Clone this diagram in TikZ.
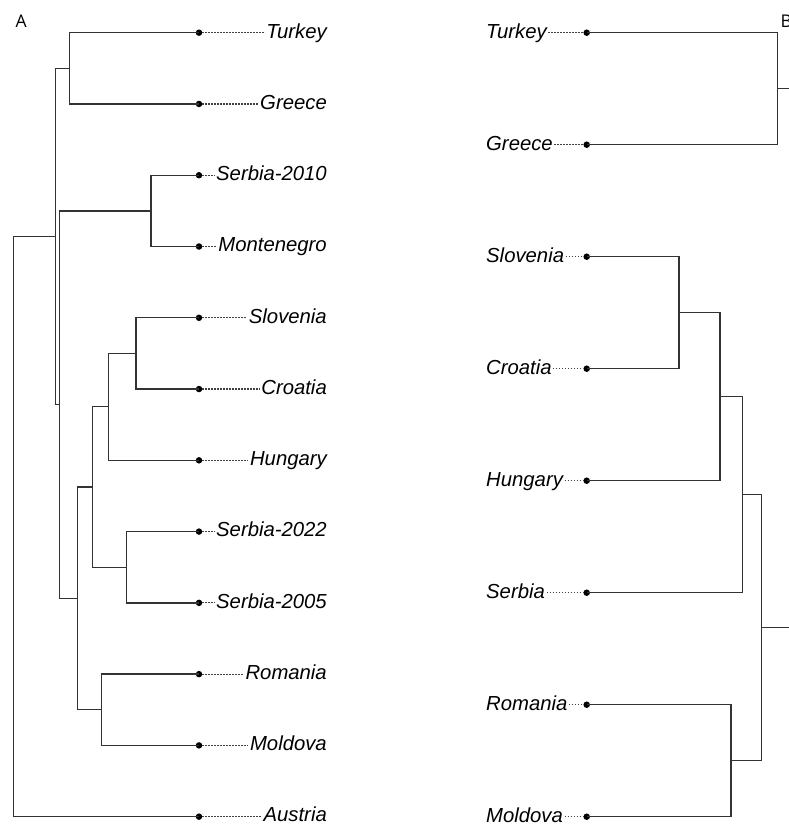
\documentclass[tikz,border=0pt]{standalone}
\usepackage{fontspec}
\setmainfont{Liberation Sans}
\newfontfamily\panelfont{Open Sans}
\begin{document}
\begin{tikzpicture}[x=1pt,y=-1pt,
  treeline/.style={draw=black!80,line width=1.35pt},
  dotline/.style={draw=black!75,line width=1.2pt,dash pattern=on 1.1pt off 1.9pt},
  tipdot/.style={circle,fill=black,inner sep=0pt,minimum size=6.5pt},
  taxonL/.style={anchor=base east,inner sep=1.5pt,font=\fontsize{20.3}{22}\selectfont\itshape},
  taxonR/.style={anchor=base west,inner sep=1.5pt,font=\fontsize{20.3}{22}\selectfont\itshape},
  panel/.style={anchor=base west,inner sep=0pt,font=\fontsize{17.5}{19}\selectfont\panelfont}]
\useasboundingbox (0,0) rectangle (788,825);
\node[panel] (pA) at (15.5,27.5) {A};
\node[panel] (pB) at (780.5,27.5) {B};
% ---------- left tree (A) ----------
\foreach \n/\t/\i in {lT/Turkey/0,lG/Greece/1,lS10/Serbia-2010/2,lM/Montenegro/3,lSl/Slovenia/4,lCr/Croatia/5,lHu/Hungary/6,lS22/Serbia-2022/7,lS05/Serbia-2005/8,lRo/Romania/9,lMo/Moldova/10,lAu/Austria/11}{
  \node[tipdot] (\n) at (199,{32.7+71.27*\i}) {};
  \node[taxonL] (\n l) at (328.5,{38+71.27*\i}) {\t};
  \draw[dotline] (\n.east) -- (\n -| \n l.west);
}
\coordinate (lTG) at (69.7,68.3);
\coordinate (lSM) at (151,211);
\coordinate (lSC) at (136,353.3);
\coordinate (lSCH) at (108.3,406.8);
\coordinate (lSS) at (126.7,567.2);
\coordinate (lX) at (92.3,487);
\coordinate (lRM) at (101.7,709.7);
\coordinate (lY) at (77.7,598.5);
\coordinate (lZ) at (59.7,404.8);
\coordinate (lW) at (55.3,236.5);
\coordinate (lRoot) at (13.3,526.6);
\draw[treeline] (lTG) |- (lT.center) (lTG) |- (lG.center);
\draw[treeline] (lSM) |- (lS10.center) (lSM) |- (lM.center);
\draw[treeline] (lSC) |- (lSl.center) (lSC) |- (lCr.center);
\draw[treeline] (lSCH) |- (lSC) (lSCH) |- (lHu.center);
\draw[treeline] (lSS) |- (lS22.center) (lSS) |- (lS05.center);
\draw[treeline] (lX) |- (lSCH) (lX) |- (lSS);
\draw[treeline] (lRM) |- (lRo.center) (lRM) |- (lMo.center);
\draw[treeline] (lY) |- (lX) (lY) |- (lRM);
\draw[treeline] (lZ) |- (lSM) (lZ) |- (lY);
\draw[treeline] (lW) |- (lTG) (lW) |- (lZ);
\draw[treeline] (lRoot) |- (lW) (lRoot) |- (lAu.center);
% ---------- right tree (B) ----------
\foreach \n/\t/\i in {rT/Turkey/0,rG/Greece/1,rSl/Slovenia/2,rCr/Croatia/3,rHu/Hungary/4,rSe/Serbia/5,rRo/Romania/6,rMo/Moldova/7}{
  \node[tipdot] (\n) at (586.7,{32.7+112*\i}) {};
  \node[taxonR] (\n l) at (484.5,{38+112*\i}) {\t};
  \draw[dotline] (\n -| \n l.east) -- (\n.west);
}
\coordinate (rTG) at (777.7,88.7);
\coordinate (rSC) at (679,312.7);
\coordinate (rSCH) at (720,396.7);
\coordinate (rSCHS) at (742.3,494.7);
\coordinate (rRM) at (731,760.7);
\coordinate (rQ) at (761.7,627.7);
\coordinate (rE1) at (800,88.7);
\coordinate (rE2) at (800,627.7);
\draw[treeline] (rTG) |- (rT.center) (rTG) |- (rG.center) (rTG) -- (rE1);
\draw[treeline] (rSC) |- (rSl.center) (rSC) |- (rCr.center);
\draw[treeline] (rSCH) |- (rSC) (rSCH) |- (rHu.center);
\draw[treeline] (rSCHS) |- (rSCH) (rSCHS) |- (rSe.center);
\draw[treeline] (rRM) |- (rRo.center) (rRM) |- (rMo.center);
\draw[treeline] (rQ) |- (rSCHS) (rQ) |- (rRM) (rQ) -- (rE2);
\end{tikzpicture}
\end{document}
